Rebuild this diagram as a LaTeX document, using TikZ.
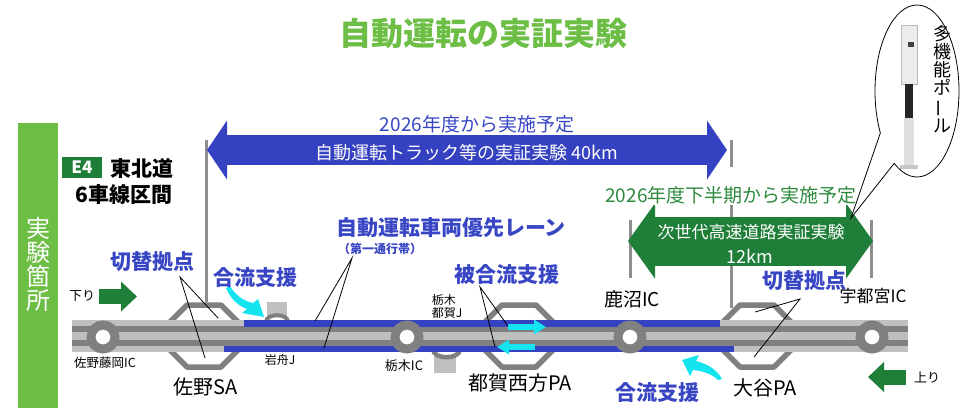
\documentclass[tikz,border=0pt]{standalone}
\usepackage{fontspec}
\setmainfont{Noto Sans CJK JP}
\usepackage{tikz}
\usetikzlibrary{arrows.meta,positioning,shapes.callouts}
\definecolor{leafgreen}{HTML}{6DBE45}
\definecolor{signgreen}{HTML}{1F7E37}
\definecolor{plangreen}{HTML}{2E8B3E}
\definecolor{trackblue}{HTML}{3441C0}
\definecolor{labelblue}{HTML}{3846C4}
\definecolor{assistcyan}{HTML}{14E4F0}
\definecolor{roadlight}{HTML}{BFBFBF}
\definecolor{roaddark}{HTML}{808080}
\newcommand{\fsz}[1]{\fontsize{#1}{#1}\selectfont}

\begin{document}
\begin{tikzpicture}[x=1pt,y=-1pt,
 lbl/.style={inner sep=0pt,font=\fsz{20}},
 small/.style={inner sep=0pt,font=\fsz{12.5}},
 bluelbl/.style={inner sep=0pt,text=labelblue,font=\fsz{21}\bfseries},
 ptr/.style={draw,line width=0.8pt},
 endline/.style={draw=roaddark!90,line width=3pt},
 band/.style={line width=#1},
 sa/.style={draw=roaddark,line width=5.5pt,fill=white,line join=round},
 ic/.style={circle,draw=roaddark,fill=white,line width=9pt,minimum size=24pt,inner sep=0pt},
 assist/.style={draw=assistcyan,line width=6.5pt,-{Triangle[length=12pt,width=14pt]}},
 dirarr/.style={draw=signgreen,line width=15pt,-{Triangle[length=16pt,width=29pt]}}
]
\useasboundingbox (0,0) rectangle (962,408);

\node[inner sep=0pt,text=leafgreen,font=\fsz{32}\bfseries] (title) at (483,33) {自動運転の実証実験};

% left side: area tag and route name
\fill[leafgreen] (18,123) rectangle (58,408);
\node[inner sep=0pt,text=white,font=\fsz{24},align=center] (place) at (38,264) {実\\験\\箇\\所};
\node[fill=signgreen,text=white,font=\fsz{17}\bfseries,minimum width=40pt,minimum height=21pt,inner sep=0pt] (e4) at (82,167.5) {E4};
\node[inner sep=0pt,font=\fsz{21}\bfseries] (route) at (141.5,169) {東北道};
\node[inner sep=0pt,font=\fsz{21}\bfseries] (lanes) at (124,194) {6車線区間};

% section limits
\draw[endline] (206,140) -- (206,302);
\draw[endline] (731,140) -- (731,167);
\draw[endline] (731,204) -- (731,308);
\draw[endline] (630,220) -- (630,278);
\draw[endline] (871,220) -- (871,278);

% 40km track test
\draw[trackblue,band=30pt,{Triangle[length=20pt,width=58pt]}-{Triangle[length=20pt,width=58pt]}] (207,150) -- (727,150);
\node[inner sep=0pt,text=labelblue,font=\fsz{19}] (plan1) at (477,124) {2026年度から実施予定};
\node[inner sep=0pt,text=white,font=\fsz{18}] (track) at (467,153) {自動運転トラック等の実証実験 40km};

% 12km next generation test
\draw[signgreen,band=49pt,{Triangle[length=27pt,width=74pt]}-{Triangle[length=27pt,width=74pt]}] (628,241) -- (873,241);
\node[inner sep=1pt,fill=white,text=plangreen,font=\fsz{19}] (plan2) at (731,195) {2026年度下半期から実施予定};
\node[inner sep=0pt,text=white,font=\fsz{17}] (nextgen) at (751,232) {次世代高速道路実証実験};
\node[inner sep=0pt,text=white,font=\fsz{18}] (len12) at (750,256) {12km};

% pole balloon
\node[ellipse callout,draw,line width=0.8pt,fill=white,minimum width=84pt,minimum height=172pt,
 callout absolute pointer={(851,218)},callout pointer arc=28] (balloon) at (917,91) {};
\fill[gray!15] (901,25) rectangle (917,84);
\draw[gray!55,line width=0.6pt] (901,25) rectangle (917,84);
\fill[black!75] (908,42) rectangle (914,47);
\fill[black!85] (905,84) rectangle (913,118);
\fill[gray!25] (904,118) rectangle (914,165);
\fill[gray!45] (900,165) rectangle (918,169);
\node[inner sep=0pt,font=\fsz{18},align=center] (poletxt) at (942,79) {多\\機\\能\\ポ\\\rotatebox[origin=c]{90}{ー}\\ル};

% rest areas and junctions
\foreach \cx in {204,519,757}
  \draw[sa] (\cx-34,322) -- (\cx-17,305) -- (\cx+17,305) -- (\cx+34,322) -- (\cx+34,350)
    -- (\cx+17,367) -- (\cx-17,367) -- (\cx-34,350) -- cycle;
\fill[roadlight] (267,302) rectangle (287,320);
\draw[roaddark,line width=4pt,fill=white] (266,322) .. controls (266,313) and (288,313) .. (288,322);
\fill[roadlight] (434,352) rectangle (456,373);
\draw[roaddark,line width=4.5pt,fill=white] (433,349) .. controls (433,360) and (460,360) .. (460,349);

% expressway
\fill[roadlight] (72,320) rectangle (908,352);
\fill[roaddark] (72,326) rectangle (908,332);
\fill[roaddark] (72,340) rectangle (908,346);
\fill[trackblue] (244,320) rectangle (720,326.5);
\fill[trackblue] (224,345.5) rectangle (734,352);

\node[ic] (sano) at (103,337) {};
\node[ic] (tochigi) at (407,337) {};
\node[ic] (kanuma) at (630,337) {};
\node[ic] (utsunomiya) at (872,337) {};

% merge assist
\draw[assist] (508,327) -- (546,327);
\draw[assist] (535,347) -- (497,347);
\fill[assistcyan] (230,286) .. controls (236,296) and (244,301) .. (253,303) -- (258,299) -- (264,317)
  -- (242,313) -- (247,309) .. controls (238,306) and (230,298) .. (226,288) -- cycle;
\fill[assistcyan] (722,379) .. controls (717,370) and (708,364) .. (696,361) -- (699,355) -- (682,360)
  -- (690,376) -- (693,370) .. controls (703,371) and (712,374) .. (718,380) -- cycle;

% labels
\node[bluelbl] (switchW) at (152,262) {切替拠点};
\coordinate (switchWfork) at (180,277);
\coordinate (switchWa) at (218,318);
\coordinate (switchWb) at (205,358);
\draw[ptr] (switchWa) -- (switchWfork) -- (switchWb);

\node[bluelbl] (mergeW) at (255,278) {合流支援};

\node[bluelbl] (lane) at (451,228) {自動運転車両優先レーン};
\node[inner sep=0pt,text=labelblue,font=\fsz{12}\bfseries] (laneno) at (380,249) {（第一通行帯）};
\coordinate (lanefork) at (352,258);
\coordinate (lanea) at (315,321);
\coordinate (laneb) at (324,348);
\draw[ptr] (lanea) -- (lanefork) -- (laneb);

\node[bluelbl] (merged) at (507,275) {被合流支援};
\coordinate (mergedfork) at (480,287);
\coordinate (mergeda) at (508,326);
\coordinate (mergedb) at (495,347);
\draw[ptr] (mergeda) -- (mergedfork) -- (mergedb);

\node[bluelbl] (switchE) at (804,281) {切替拠点};
\coordinate (switchEfork) at (800,299);
\coordinate (switchEa) at (755,312);
\coordinate (switchEb) at (754,357);
\draw[ptr] (switchEa) -- (switchEfork) -- (switchEb);

\node[bluelbl] (mergeE) at (657,393) {合流支援};

\node[lbl,font=\fsz{19}] (kanumaL) at (632,299) {鹿沼IC};
\node[lbl,font=\fsz{17}] (utsunomiyaL) at (873,296) {宇都宮IC};
\node[small] (sanoL) at (105,363) {佐野藤岡IC};
\node[small,font=\fsz{12}] (iwafuneL) at (280,360) {岩舟J};
\node[small,font=\fsz{13}] (tochigiL) at (404,366) {栃木IC};
\node[small,align=left,font=\fontsize{12}{13}\selectfont] (tsugaJ) at (447,306.5) {栃木\\都賀J};
\node[lbl] (sanoSA) at (206,387) {佐野SA};
\node[lbl] (tsugaPA) at (520,383) {都賀西方PA};
\node[lbl] (oyaPA) at (765,388) {大谷PA};

% travel directions
\node[small,font=\fsz{13}] (down) at (82,296) {下り};
\draw[dirarr] (99,296.5) -- (137,296.5);
\node[small,font=\fsz{13}] (up) at (927,377) {上り};
\draw[dirarr] (906,377) -- (868,377);
\end{tikzpicture}
\end{document}
